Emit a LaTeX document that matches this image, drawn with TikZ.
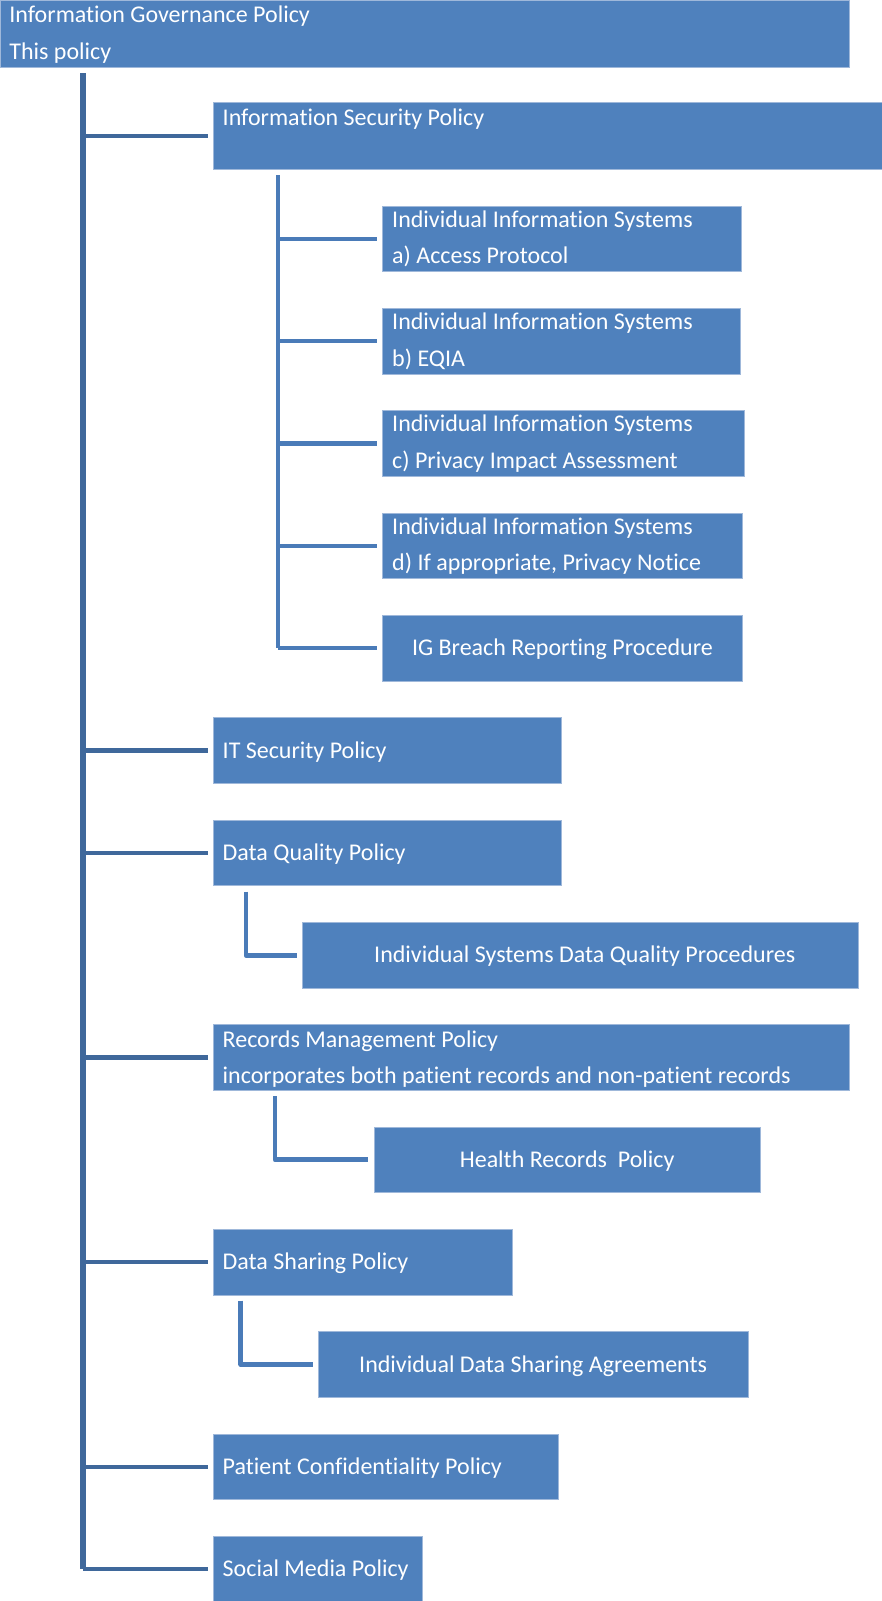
\documentclass[tikz,border=0pt]{standalone}
\usepackage{fontspec}
\setmainfont{Carlito}[Ligatures=NoCommon]
\definecolor{boxfill}{HTML}{4F81BD}
\definecolor{boxedge}{HTML}{9FB8DA}
\definecolor{trunkcol}{HTML}{3F689B}
\definecolor{subcol}{HTML}{4A7BB8}
\tikzset{
  box/.style={rectangle, fill=boxfill, draw=boxedge, line width=0.8pt,
              inner sep=0pt, anchor=north west},
  txt/.style={text=white, inner sep=0pt, font=\fontsize{24}{36}\selectfont},
  trunk/.style={draw=trunkcol, line width=6pt},
  branch/.style={draw=trunkcol, line width=4.5pt},
  subline/.style={draw=subcol, line width=4.8pt, line join=round},
}
\begin{document}
\begin{tikzpicture}[x=1pt, y=-1pt]
\useasboundingbox (0,0) rectangle (882,1601);

% ---- boxes (top-left corner, width, height) ----
\node[box, minimum width=849pt, minimum height=66.5pt] (gov) at (0,0) {};
\node[box, minimum width=669pt, minimum height=67pt]   (isp) at (213,102.3) {};
\node[box, minimum width=359pt, minimum height=65.5pt] (isa) at (382,205.7) {};
\node[box, minimum width=358pt, minimum height=65.5pt] (isb) at (382,308.0) {};
\node[box, minimum width=362pt, minimum height=65.5pt] (isc) at (382,410.4) {};
\node[box, minimum width=360pt, minimum height=65.5pt] (isd) at (382,512.7) {};
\node[box, minimum width=360pt, minimum height=65.5pt] (igb) at (382,615.0) {};
\node[box, minimum width=348pt, minimum height=65.5pt] (its) at (213,717.4) {};
\node[box, minimum width=348pt, minimum height=65.5pt] (dqp) at (213,819.7) {};
\node[box, minimum width=556pt, minimum height=65.5pt] (dqr) at (302,922.0) {};
\node[box, minimum width=636pt, minimum height=65.5pt] (rmp) at (213,1024.3) {};
\node[box, minimum width=385.5pt, minimum height=65.5pt] (hrp) at (374,1126.7) {};
\node[box, minimum width=298.5pt, minimum height=65.5pt] (dsp) at (213,1229.0) {};
\node[box, minimum width=430.5pt, minimum height=65.5pt] (dsa) at (317.5,1331.3) {};
\node[box, minimum width=345pt, minimum height=65.5pt] (pcp) at (213,1433.7) {};
\node[box, minimum width=208.7pt, minimum height=65.5pt] (smp) at (213,1536.0) {};

% ---- texts ----
\node[txt, anchor=base west] at ([shift={(9.2,22.7)}]gov.north west) {Information Governance Policy};
\node[txt, anchor=base west] at ([shift={(9.2,59.3)}]gov.north west) {This policy};
\node[txt, anchor=base west] at ([shift={(9.5,22.7)}]isp.north west) {Information Security Policy};
\foreach \b/\t in {isa/a) Access Protocol, isb/b) EQIA, isc/c) Privacy Impact Assessment,
                   isd/{d) If appropriate, Privacy Notice}} {
  \node[txt, anchor=base west] at ([shift={(10,21.5)}]\b.north west) {Individual Information Systems};
  \node[txt, anchor=base west] at ([shift={(10,58)}]\b.north west) {\t};
}
\node[txt, anchor=base] at ([shift={(0,7.7)}]igb.center) {IG Breach Reporting Procedure};
\node[txt, anchor=base west] at ([shift={(9.5,7.7)}]its.west) {IT Security Policy};
\node[txt, anchor=base west] at ([shift={(9.5,7.7)}]dqp.west) {Data Quality Policy};
\node[txt, anchor=base west] at ([shift={(72,7.7)}]dqr.west) {Individual Systems Data Quality Procedures};
\node[txt, anchor=base west] at ([shift={(9.5,22.7)}]rmp.north west) {Records Management Policy};
\node[txt, anchor=base west] at ([shift={(9.5,59.3)}]rmp.north west) {incorporates both patient records and non-patient records};
\node[txt, anchor=base] at ([shift={(0,7.7)}]hrp.center) {Health Records\ \ Policy};
\node[txt, anchor=base west] at ([shift={(9.5,7.7)}]dsp.west) {Data Sharing Policy};
\node[txt, anchor=base] at ([shift={(0,7.7)}]dsa.center) {Individual Data Sharing Agreements};
\node[txt, anchor=base west] at ([shift={(9.5,7.7)}]pcp.west) {Patient Confidentiality Policy};
\node[txt, anchor=base west] at ([shift={(9.5,7.7)}]smp.west) {Social Media Policy};

% ---- main trunk under the governance policy ----
\coordinate (govtop) at (83,73);
\draw[trunk] (govtop) -- (govtop |- smp.west);
\foreach \n in {isp, its, dqp, rmp, dsp, pcp, smp}
  \draw[branch] (govtop |- \n.west) -- ([xshift=-5pt]\n.west);

% ---- information security sub-tree ----
\coordinate (istop) at (278,175);
\draw[subline] (istop) -- (istop |- igb.west);
\foreach \n in {isa, isb, isc, isd, igb}
  \draw[subline, line width=4.5pt] (istop |- \n.west) -- ([xshift=-5.3pt]\n.west);

% ---- single-child connectors ----
\coordinate (dqtop) at (246,891.7);
\draw[subline] (dqtop) -- (dqtop |- dqr.west) -- ([xshift=-5.3pt]dqr.west);
\coordinate (rmtop) at (275,1096);
\draw[subline] (rmtop) -- (rmtop |- hrp.west) -- ([xshift=-5.7pt]hrp.west);
\coordinate (dstop) at (240.8,1300.7);
\draw[subline] (dstop) -- (dstop |- dsa.west) -- ([xshift=-5pt]dsa.west);
\end{tikzpicture}
\end{document}
